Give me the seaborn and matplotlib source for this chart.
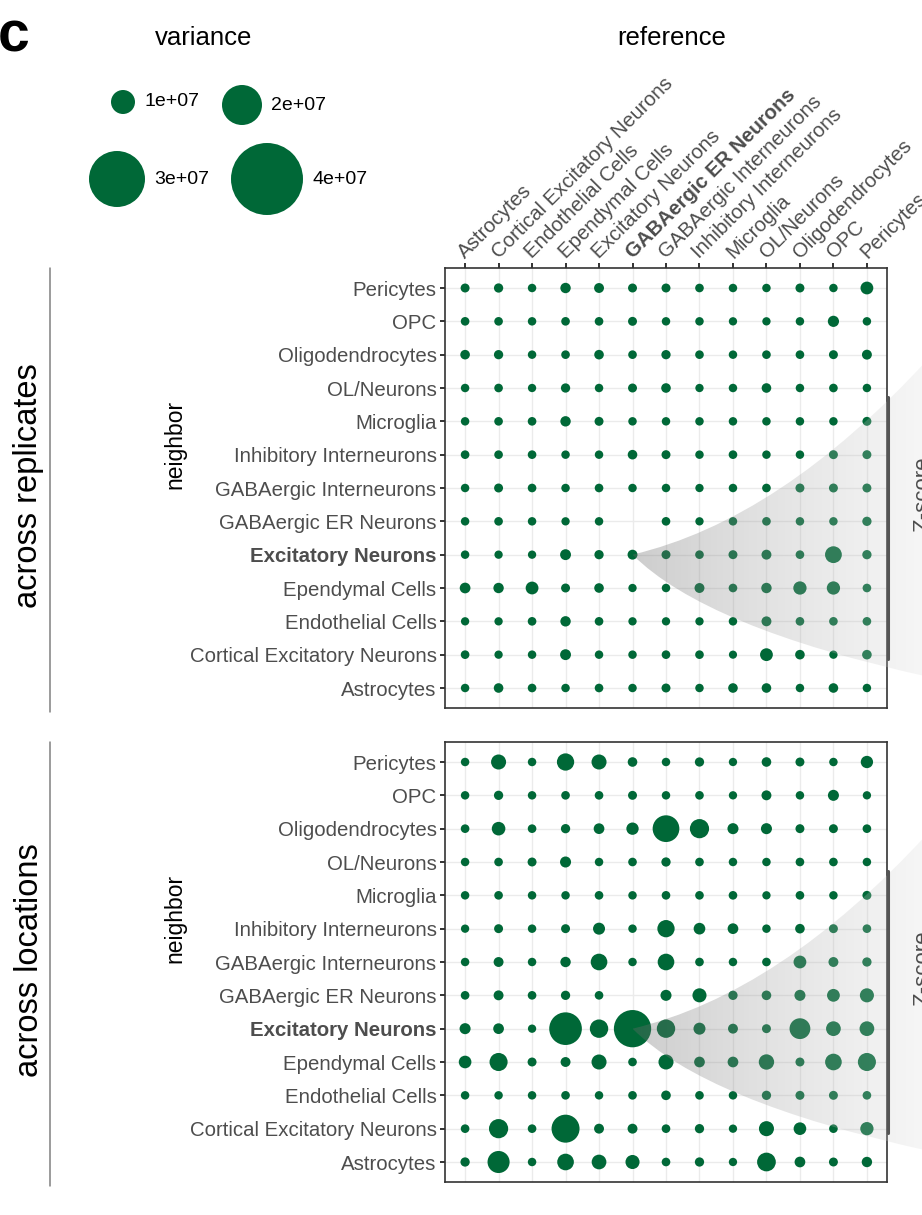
import numpy as np
import pandas as pd
import seaborn as sns
import matplotlib.pyplot as plt
import matplotlib.transforms as mtransforms
from matplotlib.path import Path
from matplotlib.patches import PathPatch

# ---- data ----
cell_types = ["Astrocytes", "Cortical Excitatory Neurons", "Endothelial Cells",
              "Ependymal Cells", "Excitatory Neurons", "GABAergic ER Neurons",
              "GABAergic Interneurons", "Inhibitory Interneurons", "Microglia",
              "OL/Neurons", "Oligodendrocytes", "OPC", "Pericytes"]

# variance (x 1e7); rows = neighbor (Astrocytes -> Pericytes), cols = reference
var_replicates = [
    [0.03, 0.10, 0.04, 0.03, 0.04, 0.03, 0.06, 0.03, 0.10, 0.10, 0.03, 0.10, 0.03],
    [0.04, 0.02, 0.03, 0.18, 0.03, 0.03, 0.04, 0.04, 0.01, 0.30, 0.10, 0.02, 0.10],
    [0.02, 0.02, 0.04, 0.15, 0.04, 0.02, 0.02, 0.02, 0.03, 0.12, 0.04, 0.04, 0.04],
    [0.17, 0.15, 0.30, 0.06, 0.10, 0.02, 0.03, 0.12, 0.04, 0.15, 0.33, 0.33, 0.04],
    [0.03, 0.02, 0.02, 0.18, 0.08, 0.12, 0.06, 0.04, 0.06, 0.12, 0.04, 0.55, 0.08],
    [0.03, 0.04, 0.03, 0.02, 0.03, None, 0.04, 0.02, 0.03, 0.04, 0.03, 0.03, 0.08],
    [0.03, 0.06, 0.04, 0.03, 0.04, 0.03, 0.03, 0.02, 0.03, 0.04, 0.06, 0.06, 0.06],
    [0.04, 0.04, 0.04, 0.03, 0.03, 0.10, 0.06, 0.03, 0.04, 0.03, 0.03, 0.06, 0.06],
    [0.03, 0.04, 0.04, 0.15, 0.06, 0.03, 0.03, 0.03, 0.03, 0.03, 0.03, 0.03, 0.06],
    [0.03, 0.04, 0.02, 0.08, 0.03, 0.06, 0.10, 0.02, 0.03, 0.10, 0.03, 0.04, 0.03],
    [0.10, 0.08, 0.03, 0.04, 0.10, 0.04, 0.08, 0.04, 0.03, 0.04, 0.04, 0.06, 0.12],
    [0.04, 0.04, 0.03, 0.04, 0.04, 0.06, 0.03, 0.03, 0.02, 0.02, 0.03, 0.20, 0.03],
    [0.06, 0.08, 0.03, 0.15, 0.12, 0.06, 0.06, 0.04, 0.03, 0.03, 0.06, 0.03, 0.30],
]
var_locations = [
    [0.08, 0.88, 0.03, 0.54, 0.42, 0.38, 0.04, 0.08, 0.02, 0.67, 0.17, 0.06, 0.15],
    [0.04, 0.70, 0.04, 1.25, 0.12, 0.12, 0.04, 0.08, 0.02, 0.44, 0.29, 0.04, 0.33],
    [0.03, 0.03, 0.03, 0.04, 0.03, 0.04, 0.10, 0.04, 0.03, 0.08, 0.06, 0.06, 0.04],
    [0.29, 0.63, 0.06, 0.12, 0.44, 0.04, 0.44, 0.17, 0.17, 0.46, 0.06, 0.54, 0.63],
    [0.19, 0.17, 0.02, 1.54, 0.65, 1.83, 0.65, 0.25, 0.12, 0.06, 0.80, 0.42, 0.42],
    [0.04, 0.12, 0.04, 0.08, 0.04, None, 0.19, 0.38, 0.08, 0.10, 0.19, 0.30, 0.38],
    [0.03, 0.12, 0.03, 0.15, 0.54, 0.03, 0.54, 0.04, 0.03, 0.04, 0.30, 0.12, 0.08],
    [0.02, 0.06, 0.03, 0.06, 0.25, 0.03, 0.58, 0.23, 0.17, 0.03, 0.10, 0.06, 0.04],
    [0.03, 0.04, 0.03, 0.03, 0.04, 0.03, 0.04, 0.04, 0.04, 0.02, 0.04, 0.03, 0.06],
    [0.03, 0.04, 0.06, 0.19, 0.03, 0.04, 0.08, 0.04, 0.03, 0.03, 0.04, 0.04, 0.03],
    [0.04, 0.35, 0.04, 0.08, 0.17, 0.27, 1.17, 0.70, 0.19, 0.19, 0.06, 0.06, 0.04],
    [0.03, 0.08, 0.03, 0.04, 0.04, 0.06, 0.03, 0.04, 0.02, 0.12, 0.03, 0.19, 0.02],
    [0.03, 0.44, 0.03, 0.58, 0.44, 0.10, 0.03, 0.08, 0.02, 0.10, 0.06, 0.03, 0.27],
]
legend_breaks = [1, 2, 3, 4]
legend_labels = ["1e+07", "2e+07", "3e+07", "4e+07"]
highlight_ref = "GABAergic ER Neurons"
highlight_nb = "Excitatory Neurons"

# ---- style ----
sns.set_style("white")
plt.rcParams['font.family'] = ['Liberation Sans', 'DejaVu Sans']
GREEN = "#006837"
TXT = "#4D4D4D"
W, H = 922, 1215
LABEL_FS = 14.7


def px_size(v):
    # diameter in px grows linearly with variance, converted to points^2
    return ((8 + 16 * np.asarray(v, dtype=float)) * 0.72) ** 2


def long_table(mat):
    rows = []
    for i, nb in enumerate(cell_types):
        for j, ref in enumerate(cell_types):
            if mat[i][j] is None:
                continue
            rows.append((ref, nb, j, i, mat[i][j]))
    df = pd.DataFrame(rows, columns=["reference", "neighbor", "rx", "ny", "variance"])
    df["s"] = px_size(df["variance"])
    return df


fig = plt.figure(figsize=(W / 100, H / 100), dpi=100)
ax1 = fig.add_axes([445 / W, 1 - 708 / H, 442 / W, 440 / H])
ax2 = fig.add_axes([445 / W, 1 - 1182 / H, 442 / W, 440 / H])
ov = fig.add_axes([0, 0, 1, 1], zorder=10)
ov.axis("off")
ov.patch.set_alpha(0)

for ax, mat in [(ax1, var_replicates), (ax2, var_locations)]:
    df = long_table(mat)
    sns.scatterplot(data=df, x="rx", y="ny", s=df["s"].to_numpy(), color=GREEN,
                    linewidth=0, edgecolor="none", legend=False, ax=ax, zorder=3)
    ax.set_xlim(-0.6, 12.6)
    ax.set_ylim(-0.6, 12.6)
    ax.set_xlabel("")
    ax.set_ylabel("")
    ax.set_xticks(range(len(cell_types)))
    ax.set_yticks(range(len(cell_types)), labels=cell_types)
    ax.grid(True, color="#EBEBEB", lw=1.0)
    ax.set_axisbelow(True)
    for sp in ax.spines.values():
        sp.set_visible(True)
        sp.set_color("#333333")
        sp.set_linewidth(1.2)
    ax.tick_params(axis="y", left=True, length=3.6, width=1.4, color="#333333",
                   labelsize=LABEL_FS, labelcolor=TXT, pad=2.5)
    for lab in ax.get_yticklabels():
        if lab.get_text() == highlight_nb:
            lab.set_fontweight("bold")

ax1.xaxis.tick_top()
ax1.set_xticks(range(len(cell_types)), labels=cell_types, rotation=45,
               ha="left", va="bottom", rotation_mode="anchor")
ax1.tick_params(axis="x", top=True, bottom=False, labeltop=True, labelbottom=False,
                length=3.6, width=1.4, color="#333333", labelsize=LABEL_FS,
                labelcolor=TXT, pad=1)
shift = mtransforms.ScaledTranslation(3 / 100, 0, fig.dpi_scale_trans)
for lab in ax1.get_xticklabels():
    lab.set_transform(lab.get_transform() + shift)
    if lab.get_text() == highlight_ref:
        lab.set_fontweight("bold")
ax2.tick_params(axis="x", top=False, bottom=False, labeltop=False, labelbottom=False)

# ---- overlay: zoom wedges towards the (cut off) Z-score panel ----
ri = cell_types.index(highlight_ref)
ni = cell_types.index(highlight_nb)
for ax in (ax1, ax2):
    x0, y0 = ax.transData.transform((ri, ni))
    y0 = H - y0
    verts = [(x0, y0), (x0 + 148, y0 - 35), (x0 + 295, y0 - 195),
             (x0 + 295, y0 + 122), (x0 + 73, y0 + 73), (x0, y0), (x0, y0)]
    codes = [Path.MOVETO, Path.CURVE3, Path.CURVE3, Path.LINETO,
             Path.CURVE3, Path.CURVE3, Path.CLOSEPOLY]
    patch = PathPatch(Path(verts, codes), facecolor="none", edgecolor="none",
                      transform=ov.transData)
    ov.add_patch(patch)
    t = np.linspace(0, 1, 256)
    rgba = np.zeros((1, 256, 4))
    rgba[0, :, :3] = (0.42 + 0.44 * t)[:, None]
    rgba[0, :, 3] = 0.34 - 0.1 * t
    im = ov.imshow(rgba, extent=(x0, x0 + 295, y0 + 130, y0 - 200), aspect="auto",
                   interpolation="bilinear", zorder=5)
    im.set_clip_path(patch)
    xr = ax.get_position().x1 * W + 0.5
    ov.plot([xr, xr], [y0 - 158, y0 + 104], color="#555555", lw=2.2, zorder=6)
    ov.text(912, y0 - 60, "Z-score", rotation=90, ha="left", va="center",
            fontsize=16, color=TXT, zorder=6)

# ---- side labels ----
for ax, name in [(ax1, "across replicates"), (ax2, "across locations")]:
    pos = ax.get_position()
    top, bot = H - pos.y1 * H, H - pos.y0 * H
    mid = (top + bot) / 2
    ov.plot([50, 50], [top, bot + 4], color="#808080", lw=1.1)
    ov.text(29, mid - 2, name, rotation=90, ha="center", va="center", fontsize=23.5,
            color="black")
    ov.text(175, mid - 44, "neighbor", rotation=90, ha="center", va="center",
            fontsize=16.5, color="black")

# ---- titles and size legend ----
ov.text(-2, 10, "c", ha="left", va="top", fontsize=41, fontweight="bold", color="black")
ov.text(204, 38, "variance", ha="center", va="center", fontsize=18.5, color="black")
ov.text((ax1.get_position().x0 + ax1.get_position().x1) / 2 * W + 6, 38, "reference",
        ha="center", va="center", fontsize=18.5, color="black")

leg = pd.DataFrame({"variance": legend_breaks, "label": legend_labels,
                    "cx": [123, 242, 117, 267], "cy": [102, 105, 179, 179]})
sns.scatterplot(data=leg, x="cx", y="cy", s=px_size(leg["variance"]), color=GREEN,
                linewidth=0, edgecolor="none", legend=False, ax=ov, zorder=4)
for _, r in leg.iterrows():
    ov.text(r["cx"] + (8 + 16 * r["variance"]) / 2 + 9, r["cy"], r["label"],
            ha="left", va="center", fontsize=14, color="black")

ov.set_xlim(0, W)
ov.set_ylim(H, 0)
ov.set_xlabel("")
ov.set_ylabel("")
ov.axis("off")

fig.savefig("out.png", dpi=100)
